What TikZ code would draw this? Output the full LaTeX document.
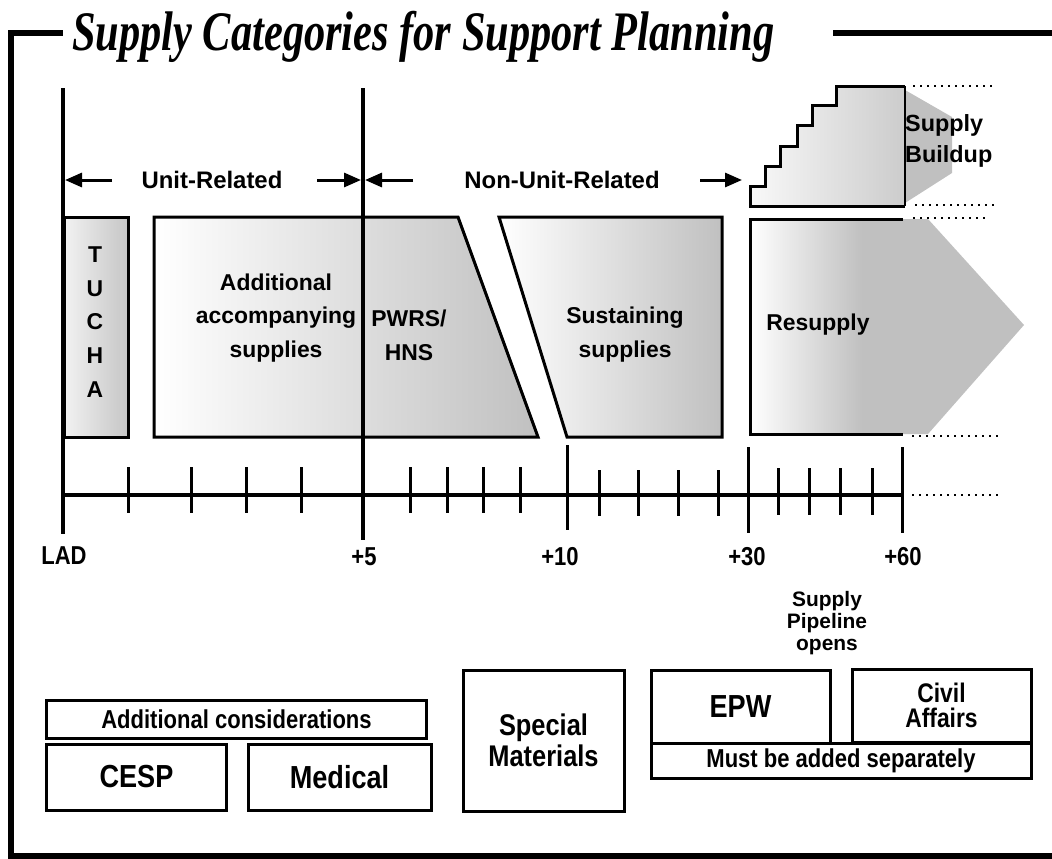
\documentclass[tikz,border=0pt]{standalone}
\usepackage{fontspec}
\usetikzlibrary{arrows.meta}
\newfontfamily\hv{Liberation Sans}
\newfontfamily\hvn[FakeStretch=0.85]{Liberation Sans}
\newfontfamily\tmn[FakeStretch=0.76]{Liberation Serif}
\definecolor{shgray}{HTML}{C0C0C0}
\begin{document}
\begin{tikzpicture}[x=1bp,y=-1bp,
  frame/.style={line width=6bp},
  edge/.style={line width=3bp, line join=miter},
  vline/.style={line width=3.3bp},
  lbl/.style={font=\hv\bfseries\fontsize{23}{34}\selectfont, align=center, inner sep=0},
  smalllbl/.style={font=\hv\bfseries\fontsize{21}{21.7}\selectfont, align=center, inner sep=0},
  ticklbl/.style={font=\hvn\bfseries\fontsize{26}{28}\selectfont, inner sep=0},
  dots/.style={line width=2bp, dash pattern=on 2bp off 5bp},
  dimarrow/.style={line width=3bp, -{Triangle[length=17bp,width=14bp]}},
  tickline/.style={line width=3bp},
  bbox/.style={draw, line width=3bp, inner sep=0, align=center,
    font=\hvn\bfseries\fontsize{32}{30}\selectfont},
  wbox/.style={bbox, font=\hvn\bfseries\fontsize{26}{28}\selectfont}
]
\useasboundingbox (0,0) rectangle (1052,859);

% frame
\draw[frame] (8,33) -- (63,33);
\draw[frame] (833,33) -- (1052,33);
\draw[frame] (11,30) -- (11,859);
\draw[frame] (8,856) -- (1052,856);

% title
\node[anchor=base west, inner sep=0,
  font=\tmn\bfseries\itshape\fontsize{56}{60}\selectfont] (title) at (72,50)
  {Supply Categories for Support Planning};

% supply buildup
\fill[shgray] (905,90) -- (952,117) -- (952,173) -- (905,203) -- cycle;
\shade[left color=gray!5, right color=gray!40]
  (905,86) -- (836,86) -- (836,105) -- (812,105) -- (812,125) -- (797,125) --
  (797,146) -- (780,146) -- (780,166) -- (765,166) -- (765,186) -- (750,186) --
  (750,206) -- (905,206) -- cycle;
\draw[edge]
  (905,86) -- (836,86) -- (836,105) -- (812,105) -- (812,125) -- (797,125) --
  (797,146) -- (780,146) -- (780,166) -- (765,166) -- (765,186) -- (750,186) --
  (750,206) -- (905,206);
\draw[line width=1.5bp] (905,86) -- (905,206);
\node[anchor=west, align=left, inner sep=0,
  font=\hv\bfseries\fontsize{23.5}{31}\selectfont] (buildup) at (905,141) {Supply\\Buildup};

% TUCHA
\draw[edge, left color=gray!10, right color=gray!45] (64,217) rectangle (128,437);
\node[lbl, font=\hv\bfseries\fontsize{23}{34}\selectfont] (tucha) at (95,322) {T\\U\\C\\H\\A};

% Additional + PWRS
\draw[edge, left color=white, right color=shgray]
  (154,217) -- (458,217) -- (538,437) -- (154,437) -- cycle;
\node[lbl] (addl) at (276,318) {Additional\\accompanying\\supplies};
\node[lbl] (pwrs) at (409,335) {PWRS/\\HNS};

% Sustaining
\draw[edge, left color=white, right color=shgray]
  (499,217) -- (722,217) -- (722,437) -- (567,437) -- cycle;
\node[lbl] (sust) at (625,335) {Sustaining\\supplies};

% Resupply
\fill[shgray] (750,219) -- (928,219) -- (1024,325) -- (928,434) -- (750,434) -- cycle;
\shade[left color=white, right color=shgray] (750,219) rectangle (862,434);
\draw[edge] (903,219) -- (750,219) -- (750,434) -- (903,434);
\node[lbl] (resup) at (818,325) {Resupply};

% dotted extensions
\coordinate (d1a) at (913,86);  \coordinate (d1b) at (993,86);
\coordinate (d2a) at (915,205); \coordinate (d2b) at (995,205);
\coordinate (d3a) at (913,218); \coordinate (d3b) at (990,218);
\coordinate (d4a) at (912,436); \coordinate (d4b) at (1003,436);
\coordinate (d5a) at (912,495); \coordinate (d5b) at (1003,495);
\draw[dots] (d1a) -- (d1b);
\draw[dots] (d2a) -- (d2b);
\draw[dots] (d3a) -- (d3b);
\draw[dots] (d4a) -- (d4b);
\draw[dots] (d5a) -- (d5b);

% main verticals
\draw[vline] (63,88) -- (63,534);
\draw[vline] (363,88) -- (363,540);

% range arrows
\node[lbl, font=\hv\bfseries\fontsize{24}{30}\selectfont] (unitrel) at (212,180) {Unit-Related};
\node[lbl, font=\hv\bfseries\fontsize{24}{30}\selectfont] (nonunit) at (562,180) {Non-Unit-Related};
\coordinate (a1s) at (112,180); \coordinate (a1e) at (65,180);
\coordinate (a2s) at (317,180); \coordinate (a2e) at (361,180);
\coordinate (a3s) at (413,180); \coordinate (a3e) at (365,180);
\coordinate (a4s) at (700,180); \coordinate (a4e) at (742,180);
\draw[dimarrow] (a1s) -- (a1e);
\draw[dimarrow] (a2s) -- (a2e);
\draw[dimarrow] (a3s) -- (a3e);
\draw[dimarrow] (a4s) -- (a4e);

% axis
\draw[line width=4bp] (63,495) -- (902,495);
\foreach \x in {128,191,246,301,410,447,483,520}
  \draw[tickline] (\x,467) -- (\x,513);
\foreach \x in {599,638,678,718}
  \draw[tickline] (\x,470) -- (\x,516);
\foreach \x in {778,809,840,872}
  \draw[tickline] (\x,468) -- (\x,515);
\draw[tickline] (567,445) -- (567,530);
\draw[tickline] (748,447) -- (748,533);
\draw[tickline] (902,447) -- (902,533);

\node[ticklbl] (lad) at (64,556) {LAD};
\node[ticklbl] (p5) at (364,557) {+5};
\node[ticklbl] (p10) at (560,557) {+10};
\node[ticklbl] (p30) at (747,557) {+30};
\node[ticklbl] (p60) at (903,557) {+60};

\node[smalllbl] (pipe) at (827,623) {Supply\\Pipeline\\opens};

% bottom boxes
\node[wbox, minimum width=379bp, minimum height=38bp] (addcons) at (236.5,719) {Additional considerations};
\node[bbox, minimum width=179bp, minimum height=66bp] (cesp) at (136.5,777) {CESP};
\node[bbox, minimum width=183bp, minimum height=66bp] (med) at (339.5,777) {Medical};
\node[bbox, minimum width=161bp, minimum height=141bp,
  font=\hvn\bfseries\fontsize{30}{31}\selectfont] (spec) at (543.5,740.5) {Special\\Materials};
\node[bbox, minimum width=179bp, minimum height=73bp] (epw) at (740.5,706.5) {EPW};
\node[bbox, minimum width=179bp, minimum height=73bp,
  font=\hvn\bfseries\fontsize{27}{24.5}\selectfont] (civil) at (941.5,705.5) {Civil\\Affairs};
\node[wbox, minimum width=380bp, minimum height=35bp] (must) at (841,760.5) {Must be added separately};
\end{tikzpicture}
\end{document}
